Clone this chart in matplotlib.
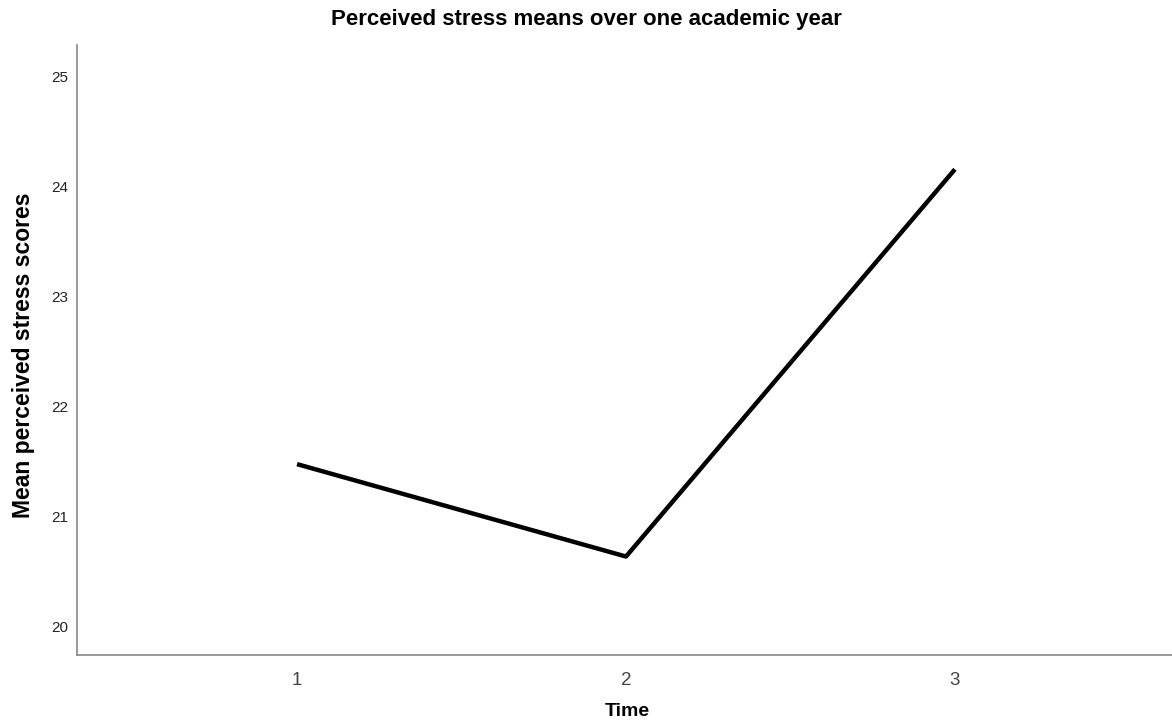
import matplotlib
matplotlib.use("Agg")
import matplotlib.pyplot as plt

# medias de estres percibido en tres momentos
tiempos = [1, 2, 3]
medias = [21.48, 20.64, 24.16]
yticks = [20, 21, 22, 23, 24, 25]

plt.rcParams["font.family"] = ["Liberation Sans", "DejaVu Sans"]

W, H = 1172, 722
fig = plt.figure(figsize=(W/100, H/100), dpi=100)
ax = fig.add_axes([77/W, 67/H, 1 - 77/W, (655-45)/H])

ax.plot(tiempos, medias, color="black", linewidth=3.2, solid_capstyle="butt")

ax.set_xlim(0.331, 3.66)
ax.set_ylim(19.745, 25.29)
ax.set_xticks(tiempos)
ax.set_yticks(yticks)
ax.tick_params(axis="x", length=0, labelsize=13.5, labelcolor="#444444", pad=12)
ax.tick_params(axis="y", length=0, labelsize=11, labelcolor="#222222", pad=6)

for s in ["top", "right"]:
    ax.spines[s].set_visible(False)
for s in ["left", "bottom"]:
    ax.spines[s].set_color("#888888")
    ax.spines[s].set_linewidth(1.2)

# titulos puestos a mano para que caigan donde en la original
fig.text(0.5, 1 - 20/H, "Perceived stress means over one academic year",
         fontsize=16, fontweight="bold", ha="center", va="center")
fig.text(627/W, 1 - 711/H, "Time", fontsize=14, fontweight="bold",
         ha="center", va="center")
fig.text(24/W, 1 - 355/H, "Mean perceived stress scores", fontsize=16.5,
         fontweight="bold", ha="center", va="center", rotation=90)

fig.savefig("out.png", dpi=100)
